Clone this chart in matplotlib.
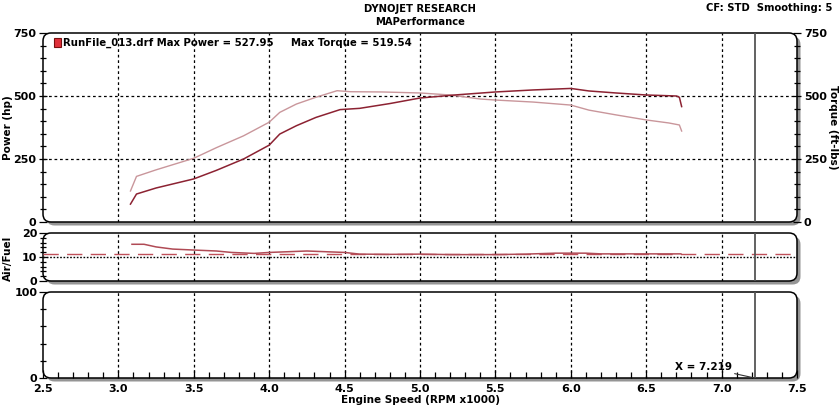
import matplotlib
matplotlib.use('Agg')
import matplotlib.pyplot as plt
from matplotlib.patches import FancyBboxPatch
from matplotlib.ticker import MultipleLocator

# power curve (hp)
pw_rpm = [3.08, 3.12, 3.25, 3.5, 3.65, 3.83, 4.0, 4.07, 4.18, 4.31, 4.47, 4.6, 4.8,
          5.0, 5.23, 5.5, 5.75, 6.0, 6.12, 6.3, 6.5, 6.7, 6.72, 6.735]
power = [71, 111, 135, 171, 205, 250, 305, 349, 382, 415, 446, 451, 470,
         492, 504, 516, 524, 530, 520, 512, 504, 500, 495, 458]

# torque curve (ft-lbs)
tq_rpm = [3.08, 3.12, 3.25, 3.5, 3.65, 3.83, 4.0, 4.07, 4.18, 4.31, 4.45, 4.54, 4.75,
          5.0, 5.2, 5.4, 5.5, 5.75, 6.0, 6.12, 6.3, 6.5, 6.65, 6.72, 6.735]
torque = [123, 181, 207, 253, 295, 342, 396, 435, 468, 495, 521, 517, 516,
          512, 504, 488, 484, 476, 464, 444, 425, 405, 393, 385, 361]

# air/fuel
afr_rpm = [3.09, 3.17, 3.25, 3.36, 3.5, 3.65, 3.75, 3.9, 4.0, 4.25, 4.5, 4.6, 4.8,
           5.0, 5.2, 5.5, 5.7, 5.9, 6.1, 6.2, 6.5, 6.73]
afr = [15.3, 15.3, 14.2, 13.3, 12.9, 12.5, 11.9, 11.5, 11.9, 12.5, 11.9, 11.2, 11.1,
       11.2, 11.0, 11.0, 11.2, 11.6, 11.6, 11.3, 11.3, 11.3]
afr_target = 11.4

cursor_x = 7.219
x_ticks = [2.5, 3.0, 3.5, 4.0, 4.5, 5.0, 5.5, 6.0, 6.5, 7.0, 7.5]
grid_x = [3.0, 3.5, 4.0, 4.5, 5.0, 5.5, 6.0, 6.5, 7.0]

W, H = 840, 409
fig = plt.figure(figsize=(W / 100, H / 100), dpi=100)
plt.rcParams['font.family'] = ['DejaVu Sans']

def px_axes(x0, y0, x1, y1):
    return fig.add_axes([x0 / W, 1 - y1 / H, (x1 - x0) / W, (y1 - y0) / H])

ax1 = px_axes(43, 33, 797, 222)
ax2 = px_axes(43, 233, 797, 281)
ax3 = px_axes(43, 292, 797, 378)

dark = '#8c2232'
light = '#c9969b'
grid_kw = dict(color='black', lw=0.9, dashes=(2.2, 2.2))

for ax in (ax1, ax2, ax3):
    ax.set_xlim(2.5, 7.5)
    ax.patch.set_visible(False)
    for s in ax.spines.values():
        s.set_visible(False)
    bb = ax.get_position()
    wpx, hpx = bb.width * W, bb.height * H
    asp = wpx / hpx
    r = 8 / wpx
    shadow = FancyBboxPatch((3.5 / wpx, -3.5 / hpx), 1, 1, boxstyle=f'round,pad=0,rounding_size={r}',
                            mutation_aspect=asp, transform=ax.transAxes, facecolor='#959595',
                            edgecolor='none', clip_on=False, zorder=0.1)
    face = FancyBboxPatch((0, 0), 1, 1, boxstyle=f'round,pad=0,rounding_size={r}',
                          mutation_aspect=asp, transform=ax.transAxes, facecolor='white',
                          edgecolor='black', lw=1.1, clip_on=False, zorder=0.2)
    ax.add_patch(shadow)
    ax.add_patch(face)
    for gx in grid_x:
        ax.axvline(gx, zorder=0.5, **grid_kw)
    ax.axvline(cursor_x, color='#555555', lw=1.3, zorder=3)
    ax.set_xticks(x_ticks)
    ax.tick_params(axis='y', which='both', direction='inout', length=6, width=0.9,
                   labelsize=8, pad=1)
    ax.tick_params(axis='y', which='minor', length=5)

# top panel: power / torque
ax1.set_ylim(0, 750)
ax1.set_yticks([0, 250, 500, 750])
ax1.yaxis.set_minor_locator(MultipleLocator(50))
ax1.tick_params(axis='y', which='both', right=True, labelright=True)
ax1.tick_params(axis='y', which='major', pad=2)
ax1.tick_params(axis='x', bottom=False, labelbottom=False)
for gy in [250, 500]:
    ax1.axhline(gy, zorder=0.5, **grid_kw)
ax1.plot(tq_rpm, torque, color=light, lw=1.0, zorder=2)
ax1.plot(pw_rpm, power, color=dark, lw=1.1, zorder=2)
for lab in ax1.get_yticklabels() + ax1.yaxis.get_ticklabels(which='major'):
    lab.set_fontweight('bold')
for t in ax1.yaxis.get_major_ticks():
    t.label2.set_fontweight('bold')

# legend line
fig.patches.append(FancyBboxPatch((54 / W, 1 - 47 / H), 7 / W, 9 / H, boxstyle='square,pad=0',
                                  transform=fig.transFigure, facecolor='#e0303a',
                                  edgecolor='#7a1010', lw=0.8))
fig.text(63 / W, 1 - 43 / H, 'RunFile_013.drf Max Power = 527.95', fontsize=7.3,
         fontweight='bold', va='center', ha='left')
fig.text(291 / W, 1 - 43 / H, 'Max Torque = 519.54', fontsize=7.3,
         fontweight='bold', va='center', ha='left')

# air/fuel panel
ax2.set_ylim(0, 20)
ax2.set_yticks([0, 10, 20])
ax2.yaxis.set_minor_locator(MultipleLocator(2))
ax2.tick_params(axis='x', bottom=False, labelbottom=False)
ax2.axhline(10, color='black', lw=1.0, dashes=(1.2, 1.2), zorder=0.5)
ax2.axhline(afr_target, color='#c0505a', lw=1.0, dashes=(11, 6), zorder=1.5)
ax2.plot(afr_rpm, afr, color='#b04a55', lw=1.1, zorder=2)
for lab in ax2.get_yticklabels():
    lab.set_fontweight('bold')

# bottom panel
ax3.set_ylim(0, 100)
ax3.set_yticks([0, 100])
ax3.yaxis.set_minor_locator(MultipleLocator(20))
ax3.xaxis.set_minor_locator(MultipleLocator(0.1))
ax3.tick_params(axis='x', which='major', direction='in', length=6, width=0.9,
                labelsize=8, pad=4)
ax3.tick_params(axis='x', which='minor', direction='in', length=4, width=0.9)
for lab in ax3.get_yticklabels() + ax3.get_xticklabels():
    lab.set_fontweight('bold')
ax3.annotate(f'X = {cursor_x:.3f}', xy=(cursor_x, 0), xytext=(6.69, 13),
             fontsize=7.5, fontweight='bold', va='center', ha='left',
             arrowprops=dict(arrowstyle='-', color='#333333', lw=0.8,
                             shrinkA=0, shrinkB=0))
ax3.set_xlabel('Engine Speed (RPM x1000)', fontsize=7.5, fontweight='bold', labelpad=1)

# headers and side labels
fig.text(420 / W, 1 - 9 / H, 'DYNOJET RESEARCH', fontsize=7.2, fontweight='bold',
         ha='center', va='center')
fig.text(420 / W, 1 - 22 / H, 'MAPerformance', fontsize=7.2, fontweight='bold',
         ha='center', va='center')
fig.text(832 / W, 1 - 8 / H, 'CF: STD  Smoothing: 5', fontsize=7.2, fontweight='bold',
         ha='right', va='center')
fig.text(8 / W, 1 - 128 / H, 'Power (hp)', fontsize=7.5, fontweight='bold',
         rotation=90, ha='center', va='center')
fig.text(8 / W, 1 - 258 / H, 'Air/Fuel', fontsize=7.5, fontweight='bold',
         rotation=90, ha='center', va='center')
fig.text(833 / W, 1 - 127 / H, 'Torque (ft-lbs)', fontsize=7.5, fontweight='bold',
         rotation=270, ha='center', va='center')

fig.savefig('out.png', dpi=100)
